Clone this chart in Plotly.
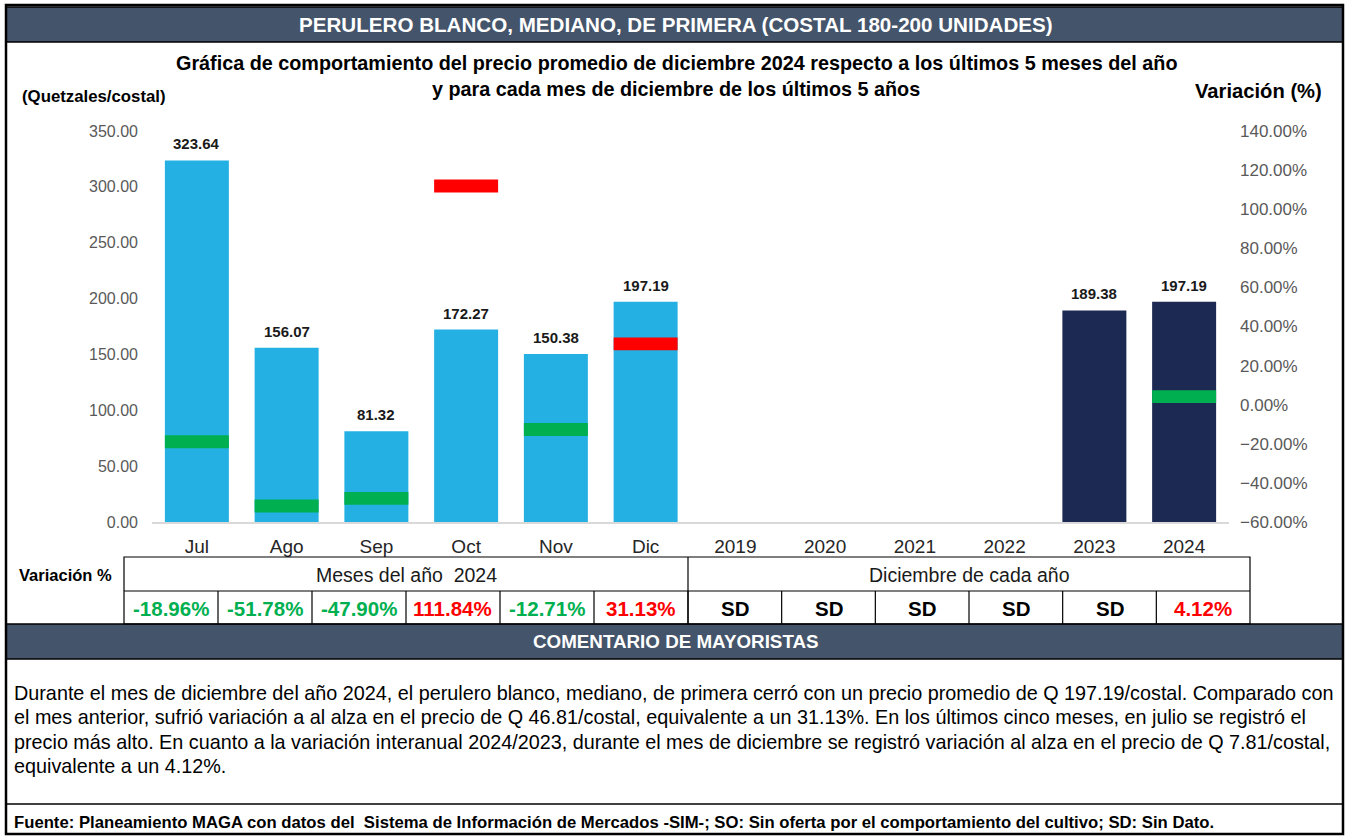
import plotly.graph_objects as go

# ---------------- data ----------------
categories = ["Jul", "Ago", "Sep", "Oct", "Nov", "Dic",
              "2019", "2020", "2021", "2022", "2023", "2024"]
prices = [323.64, 156.07, 81.32, 172.27, 150.38, 197.19,
          None, None, None, None, 189.38, 197.19]
variation_pct = [-18.96, -51.78, -47.90, 111.84, -12.71, 31.13,
                 None, None, None, None, None, 4.12]
variation_marker_colors = ["#00B050", "#00B050", "#00B050", "#FF0000", "#00B050", "#FF0000",
                           "rgba(0,0,0,0)", "rgba(0,0,0,0)", "rgba(0,0,0,0)", "rgba(0,0,0,0)",
                           "rgba(0,0,0,0)", "#00B050"]
bar_colors = ["#25B0E3"] * 6 + ["#1C2952"] * 6
table_labels = ["-18.96%", "-51.78%", "-47.90%", "111.84%", "-12.71%", "31.13%",
                "SD", "SD", "SD", "SD", "SD", "4.12%"]
table_colors = ["#00B050", "#00B050", "#00B050", "#FF0000", "#00B050", "#FF0000",
                "#000000", "#000000", "#000000", "#000000", "#000000", "#FF0000"]
group_labels = ["Meses del año  2024", "Diciembre de cada año"]

header = "PERULERO BLANCO, MEDIANO, DE PRIMERA (COSTAL 180-200 UNIDADES)"
title_lines = ["Gráfica de comportamiento del precio promedio de diciembre 2024 respecto a los últimos 5 meses del año",
               "y para cada mes de diciembre de los últimos 5 años"]
comment_header = "COMENTARIO DE MAYORISTAS"
comment_lines = [
    "Durante el mes de diciembre del año 2024, el perulero blanco, mediano, de primera cerró con un precio promedio de Q 197.19/costal. Comparado con",
    "el mes anterior, sufrió variación a al alza en el precio de Q 46.81/costal, equivalente a un 31.13%. En los últimos cinco meses, en julio se registró el",
    "precio más alto. En cuanto a la variación interanual 2024/2023, durante el mes de diciembre se registró variación al alza en el precio de Q 7.81/costal,",
    "equivalente a un 4.12%.",
]
footer = "Fuente: Planeamiento MAGA con datos del  Sistema de Información de Mercados -SIM-; SO: Sin oferta por el comportamiento del cultivo; SD: Sin Dato."

# ---------------- layout helpers ----------------
W, H = 1348, 836
FONT = "Liberation Sans, Arial, sans-serif"


def fx(x):
    return x / W


def fy(y):
    return 1 - y / H


PLOT_L, PLOT_R, PLOT_T, PLOT_B = 152, 1229, 131, 522
MARK_H = 6.6  # thickness of variation markers in % units

fig = go.Figure()

fig.add_trace(go.Bar(
    x=categories, y=prices, marker=dict(color=bar_colors, line=dict(width=0)),
    yaxis="y", hoverinfo="x+y", showlegend=False,
))

fig.add_trace(go.Bar(
    x=categories,
    y=[MARK_H if v is not None else None for v in variation_pct],
    base=[v - MARK_H / 2 if v is not None else None for v in variation_pct],
    marker=dict(color=variation_marker_colors, line=dict(width=0)),
    yaxis="y2", hoverinfo="x", showlegend=False,
))

annotations = []
# value labels above bars (x given as category index)
for i, p in enumerate(prices):
    if p is None:
        continue
    annotations.append(dict(x=i, y=p, xref="x", yref="y", text=f"<b>{p:.2f}</b>",
                            showarrow=False, yanchor="bottom", yshift=6,
                            font=dict(family=FONT, size=15, color="#1A1A1A")))


def ann(x, y, text, size, color="#000000", bold=False, xanchor="center"):
    annotations.append(dict(x=fx(x), y=fy(y), xref="paper", yref="paper",
                            text=f"<b>{text}</b>" if bold else text,
                            showarrow=False, xanchor=xanchor, yanchor="middle",
                            font=dict(family=FONT, size=size, color=color)))


ann(676, 25, header, 20.6, "#FFFFFF", bold=True)
ann(676, 63, title_lines[0], 19.8, "#000000", bold=True)
ann(676, 89, title_lines[1], 19.8, "#000000", bold=True)
ann(20, 96, "(Quetzales/costal)", 16.8, "#000000", bold=True, xanchor="left")
ann(1324, 91, "Variación (%)", 20.2, "#000000", bold=True, xanchor="right")

# table
TBL_L, TBL_M, TBL_R = 124, 688, 1250
ROW1_T, ROW_MID, ROW2_B = 557, 591, 624
ann(65, 575, "Variación %", 16.5, "#000000", bold=True)
ann((TBL_L + TBL_M) / 2, 575, group_labels[0], 19.5, "#1A1A1A")
ann((TBL_M + TBL_R) / 2, 575, group_labels[1], 19.5, "#1A1A1A")

month_w = (TBL_M - TBL_L) / 6
year_w = (TBL_R - TBL_M) / 6
cell_edges = [TBL_L + i * month_w for i in range(6)] + [TBL_M + i * year_w for i in range(7)]
for i, (lab, col) in enumerate(zip(table_labels, table_colors)):
    cx = (cell_edges[i] + cell_edges[i + 1]) / 2
    ann(cx, 608, lab, 20.5, col, bold=True)

ann(676, 641, comment_header, 18.8, "#FFFFFF", bold=True)
for i, line_txt in enumerate(comment_lines):
    ann(12, 693 + i * 24.3, line_txt, 19.8, "#000000", xanchor="left")
ann(12, 822, footer, 16.7, "#000000", bold=True, xanchor="left")

shapes = []


def rect(x0, y0, x1, y1, fill=None, lw=1.0, color="#000000"):
    shapes.append(dict(type="rect", xref="paper", yref="paper",
                       x0=fx(x0), x1=fx(x1), y0=fy(y0), y1=fy(y1),
                       line=dict(color=color, width=lw),
                       fillcolor=fill if fill else "rgba(0,0,0,0)", layer="below" if fill else "above"))


def line(x0, y0, x1, y1, lw=1.0, color="#000000"):
    shapes.append(dict(type="line", xref="paper", yref="paper",
                       x0=fx(x0), x1=fx(x1), y0=fy(y0), y1=fy(y1),
                       line=dict(color=color, width=lw)))


rect(6, 7, 1343, 42, fill="#44546A", lw=1.5)
rect(6, 624, 1343, 659, fill="#44546A", lw=1.5)
line(6, 804, 1343, 804, lw=1.5)
rect(6, 5, 1343, 834, lw=2.5)
# table grid
rect(TBL_L, ROW1_T, TBL_R, ROW2_B, lw=1.2)
line(TBL_L, ROW_MID, TBL_R, ROW_MID, lw=1.2)
line(TBL_M, ROW1_T, TBL_M, ROW2_B, lw=1.2)
for e in cell_edges[1:-1]:
    line(e, ROW_MID, e, ROW2_B, lw=1.2)

fig.update_layout(
    width=W, height=H,
    margin=dict(l=0, r=0, t=0, b=0, pad=0),
    paper_bgcolor="#FFFFFF", plot_bgcolor="#FFFFFF",
    barmode="overlay", bargap=0.287,
    showlegend=False,
    font=dict(family=FONT),
    xaxis=dict(domain=[fx(PLOT_L), fx(PLOT_R)], type="category",
               categoryorder="array", categoryarray=categories,
               range=[-0.5, len(categories) - 0.5], automargin=False,
               showline=True, linecolor="#D9D9D9", linewidth=1.5,
               showgrid=False, ticks="", ticklabelstandoff=6,
               tickfont=dict(family=FONT, size=19, color="#262626")),
    yaxis=dict(domain=[fy(PLOT_B), fy(PLOT_T)], range=[0, 350], dtick=50,
               tickformat=".2f", showgrid=False, zeroline=False, showline=False,
               ticks="", ticklabelstandoff=13, automargin=False,
               tickfont=dict(family=FONT, size=16, color="#595959")),
    yaxis2=dict(domain=[fy(PLOT_B), fy(PLOT_T)], range=[-60, 140], dtick=20,
                tickformat=".2f", ticksuffix="%", overlaying="y", side="right",
                anchor="x", automargin=False,
                showgrid=False, zeroline=False, showline=False,
                ticks="", ticklabelstandoff=10,
                tickfont=dict(family=FONT, size=17, color="#595959")),
    annotations=annotations,
    shapes=shapes,
)

fig.write_html("out.html", config={"displayModeBar": False},
               post_script="document.body.style.margin='0';document.body.style.overflow='hidden';")
